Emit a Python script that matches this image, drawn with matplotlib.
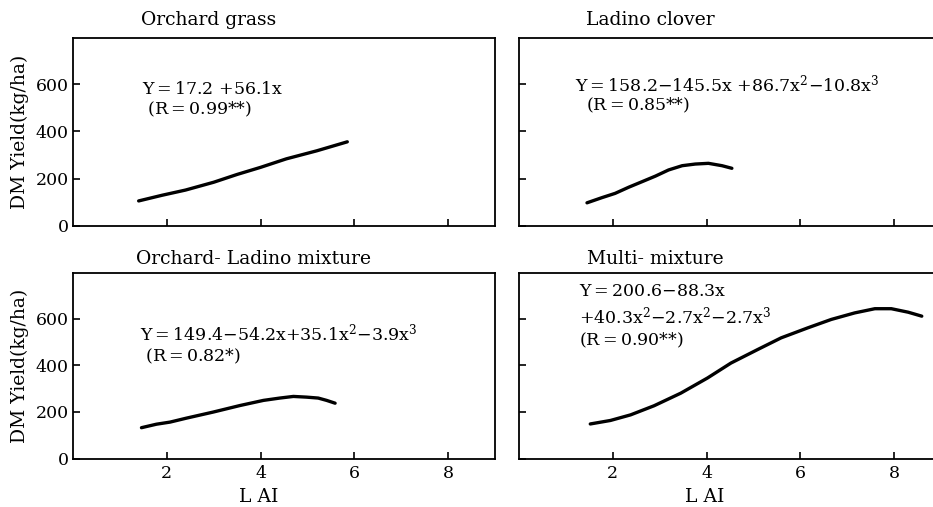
import matplotlib
matplotlib.use('Agg')
import matplotlib.pyplot as plt

plt.rcParams['font.family'] = ['DejaVu Serif']
plt.rcParams['mathtext.fontset'] = 'dejavuserif'

# curve readings (LAI, DM yield kg/ha)
og_x = [1.4, 1.9, 2.4, 3.0, 3.5, 4.0, 4.55, 5.2, 5.85]
og_y = [106, 130, 152, 185, 218, 248, 284, 318, 356]

lc_x = [1.45, 1.77, 2.05, 2.34, 2.62, 2.91, 3.19, 3.48, 3.76, 4.04, 4.33, 4.54]
lc_y = [98, 120, 138, 164, 187, 211, 237, 255, 262, 265, 255, 244]

ol_x = [1.46, 1.78, 2.07, 2.42, 2.99, 3.56, 4.06, 4.41, 4.70, 4.98, 5.23, 5.41, 5.59]
ol_y = [132, 147, 156, 173, 199, 227, 249, 259, 266, 263, 259, 249, 237]

mm_x = [1.52, 1.95, 2.38, 2.88, 3.45, 4.02, 4.52, 5.09, 5.59, 6.16, 6.66, 7.16, 7.59, 7.94, 8.30, 8.59]
mm_y = [148, 163, 187, 226, 280, 345, 409, 467, 517, 560, 596, 624, 642, 642, 627, 610]

titles = ['Orchard grass', 'Ladino clover', 'Orchard- Ladino mixture', 'Multi- mixture']
eqs = [
    ['Y$=$17.2 +56.1x', ' (R$=$0.99**)'],
    ['Y$=$158.2$-$145.5x +86.7x$^2$$-$10.8x$^3$', '  (R$=$0.85**)'],
    ['Y$=$149.4$-$54.2x+35.1x$^2$$-$3.9x$^3$', ' (R$=$0.82*)'],
    ['Y$=$200.6$-$88.3x', '+40.3x$^2$$-$2.7x$^2$$-$2.7x$^3$', '(R$=$0.90**)'],
]
series = [(og_x, og_y), (lc_x, lc_y), (ol_x, ol_y), (mm_x, mm_y)]

fig = plt.figure(figsize=(9.33, 5.07), dpi=100)
W, H = 933, 507

def box(l, t, r, b):
    return [l / W, 1 - b / H, (r - l) / W, (b - t) / H]

rects = [box(73, 38, 495, 226), box(519, 38, 941, 226),
         box(73, 273, 495, 458.5), box(519, 273, 941, 458.5)]

# text placement: (x data, y pixel) for title and equation lines
title_pos = [(1.45, 20), (1.42, 20), (1.35, 259), (1.45, 259)]
eq_pos = [
    [(1.47, 89), (1.47, 109)],
    [(1.2, 84), (1.2, 105)],
    [(1.43, 333), (1.43, 356)],
    [(1.27, 291), (1.27, 316), (1.27, 340)],
]

for i in range(4):
    ax = fig.add_axes(rects[i])
    xs, ys = series[i]
    ax.plot(xs, ys, color='black', lw=2.4, solid_capstyle='round', solid_joinstyle='round')
    ax.set_xlim(0, 9)
    ax.set_ylim(0, 795)
    ax.set_xticks([2, 4, 6, 8])
    ax.set_yticks([0, 200, 400, 600])
    ax.tick_params(direction='in', length=5, width=1.2, labelsize=12.5, pad=3)
    for s in ax.spines.values():
        s.set_linewidth(1.3)
    if i < 2:
        ax.tick_params(labelbottom=False)
    else:
        ax.set_xlabel('L AI', fontsize=13.5)
        ax.xaxis.set_label_coords(3.95 / 9, -0.205)
        ax.xaxis.label.set_va('center')
        ax.tick_params(axis='x', pad=5)
    if i % 2 == 1:
        ax.tick_params(labelleft=False)
    else:
        ax.set_ylabel('DM Yield(kg/ha)', fontsize=13.5)
        ax.yaxis.set_label_coords(-0.105, 0.5)
    tx, tpy = title_pos[i]
    top_px = (1 - rects[i][1] - rects[i][3]) * H
    def ay(py):
        return (top_px + rects[i][3] * H - py) / (rects[i][3] * H)
    ax.text(tx, ay(tpy), titles[i], transform=ax.get_xaxis_transform(),
            fontsize=13.5, ha='left', va='center', clip_on=False)
    for (ex, epy), line in zip(eq_pos[i], eqs[i]):
        ax.text(ex, ay(epy), line, transform=ax.get_xaxis_transform(),
                fontsize=12.5, ha='left', va='center')

fig.savefig('out.png', dpi=100)
